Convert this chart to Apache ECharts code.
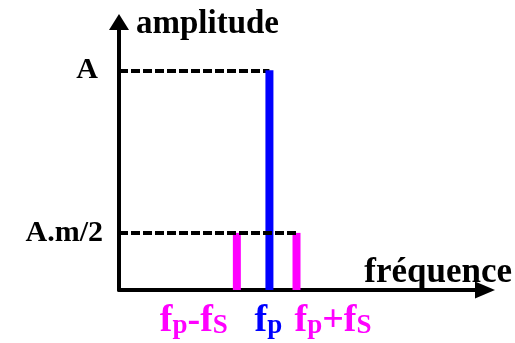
<!DOCTYPE html>
<html>
<head>
<meta charset="utf-8">
<style>
  html, body { margin: 0; padding: 0; background: #fff; }
  #main { width: 515px; height: 343px; }
</style>
<script src="https://cdn.jsdelivr.net/npm/echarts@6/dist/echarts.min.js"></script>
</head>
<body>
<div id="main"></div>
<script>
  // spectre d'un signal module en amplitude
  var freqNames = ['{f|f}{s|p}{f|-f}{s|S}', '{f|f}{s|p}', '{f|f}{s|p}{f|+f}{s|S}'];
  var freqValues = [32.2, 41.1, 48.5];
  var ampValues = [0.26, 1, 0.26];
  var levelNames = ['A', 'A.m/2'];
  var levelValues = [1, 0.26];
  var xMax = 100;
  var yMax = 1.22;

  var serif = 'Liberation Serif';
  var magenta = '#ff00ff';
  var blue = '#0000ff';
  var carrierIndex = 1;

  var myChart = echarts.init(document.getElementById('main'));

  // label placement for each line of the spectrum
  var labelLayout = [
    {align: 'right', offset: [-9, 0]},
    {align: 'center', offset: [-1, 0]},
    {align: 'left', offset: [-2, 0]}
  ];

  function barItem(i, color) {
    return {
      value: [freqValues[i], ampValues[i]],
      itemStyle: {color: color},
      label: {
        show: true,
        position: 'bottom',
        distance: 12,
        align: labelLayout[i].align,
        offset: labelLayout[i].offset,
        color: color,
        formatter: freqNames[i],
        rich: {
          f: {fontSize: 38, fontWeight: 'bold', fontFamily: serif, lineHeight: 38, verticalAlign: 'bottom'},
          s: {fontSize: 27, fontWeight: 'bold', fontFamily: serif, lineHeight: 30, verticalAlign: 'bottom'}
        }
      }
    };
  }

  function levelLine(j, endFreq, dist) {
    return [{
      coord: [0, levelValues[j]],
      label: {
        show: true,
        position: 'start',
        distance: dist,
        formatter: levelNames[j],
        color: '#000',
        fontSize: 30,
        fontWeight: 'bold',
        fontFamily: serif
      }
    }, {
      coord: [endFreq, levelValues[j]]
    }];
  }

  var dashStyle = {color: '#000', width: 4, type: [9, 3], opacity: 1};

  var sideData = [];
  freqValues.forEach(function (f, i) {
    if (i !== carrierIndex) sideData.push(barItem(i, magenta));
  });

  var option = {
    animation: false,
    grid: {left: 119, right: 30, top: 22, bottom: 53, containLabel: false, outerBoundsMode: 'none'},
    xAxis: {
      type: 'value',
      min: 0,
      max: xMax,
      name: 'fréquence',
      nameLocation: 'end',
      nameGap: 27,
      nameTextStyle: {
        align: 'right', verticalAlign: 'bottom',
        color: '#000', fontSize: 35, fontWeight: 'bold', fontFamily: serif
      },
      axisLine: {
        show: true,
        symbol: ['none', 'triangle'],
        symbolSize: [17, 20],
        lineStyle: {color: '#000', width: 4}
      },
      axisTick: {show: false},
      axisLabel: {show: false},
      splitLine: {show: false}
    },
    yAxis: {
      type: 'value',
      min: 0,
      max: yMax,
      name: 'amplitude',
      nameLocation: 'end',
      nameGap: -2,
      nameTextStyle: {
        align: 'left', verticalAlign: 'middle', padding: [0, 0, 0, 17],
        color: '#000', fontSize: 33, fontWeight: 'bold', fontFamily: serif
      },
      axisLine: {
        show: true,
        symbol: ['none', 'triangle'],
        symbolSize: [20, 16],
        lineStyle: {color: '#000', width: 4}
      },
      axisTick: {show: false},
      axisLabel: {show: false},
      splitLine: {show: false}
    },
    series: [
      {
        // porteuse
        name: 'porteuse',
        type: 'bar',
        z: 3,
        barWidth: 8,
        barGap: '-100%',
        data: [barItem(carrierIndex, blue)],
        markLine: {
          silent: true,
          z: 1,
          symbol: ['none', 'none'],
          lineStyle: dashStyle,
          data: [levelLine(0, freqValues[carrierIndex], 21)]
        }
      },
      {
        // bandes laterales
        name: 'bandes',
        type: 'bar',
        z: 2,
        barWidth: 8,
        barGap: '-100%',
        data: sideData,
        markLine: {
          silent: true,
          z: 5,
          symbol: ['none', 'none'],
          lineStyle: dashStyle,
          data: [levelLine(1, freqValues[2], 16)]
        }
      }
    ]
  };

  myChart.setOption(option);
</script>
</body>
</html>
